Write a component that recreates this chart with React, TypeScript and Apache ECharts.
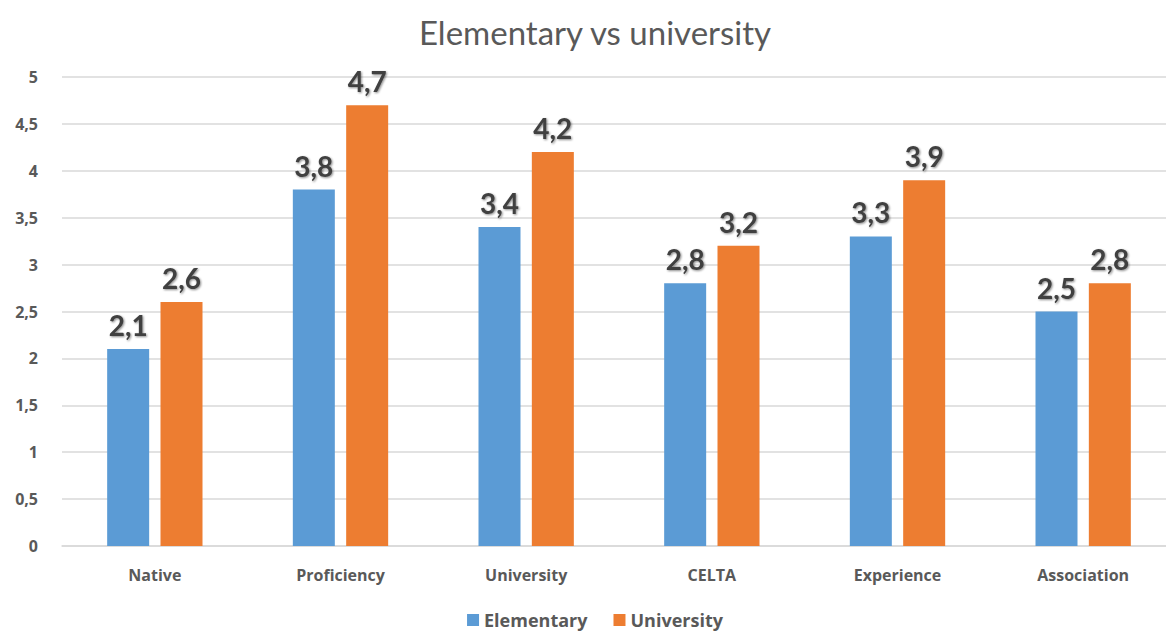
import React, { useEffect, useRef } from "react";
import * as echarts from "echarts";

const categories = ["Native", "Proficiency", "University", "CELTA", "Experience", "Association"];
const elementary = [2.1, 3.8, 3.4, 2.8, 3.3, 2.5];
const university = [2.6, 4.7, 4.2, 3.2, 3.9, 2.8];

const fmt = (v: number) => String(v).replace(".", ",");

export default function App() {
  const ref = useRef<HTMLDivElement>(null);
  useEffect(() => {
    if (!ref.current) return;
    const chart = echarts.init(ref.current, undefined, { renderer: "svg" });
    const labelStyle = {
      show: true,
      position: "top" as const,
      distance: 10,
      formatter: (p: any) => fmt(p.value),
      fontFamily: "Lato",
      fontWeight: "bold" as const,
      fontSize: 28,
      color: "#404040",
      textShadowColor: "rgba(0,0,0,0.45)",
      textShadowBlur: 2,
      textShadowOffsetX: 1,
      textShadowOffsetY: 1,
    };
    chart.setOption({
      animation: false,
      backgroundColor: "#ffffff",
      title: {
        text: "Elementary vs university",
        left: "center",
        top: 10,
        textStyle: { fontFamily: "Lato", fontSize: 33, fontWeight: "normal", color: "#595959" },
      },
      grid: { left: 62, width: 1114, top: 77, height: 469 },
      xAxis: {
        type: "category",
        data: categories,
        axisLine: { lineStyle: { color: "#d9d9d9", width: 1.5 } },
        axisTick: { show: false },
        axisLabel: {
          fontFamily: "Open Sans",
          fontWeight: "bold",
          fontSize: 16,
          color: "#595959",
          margin: 21,
        },
      },
      yAxis: {
        type: "value",
        min: 0,
        max: 5,
        interval: 0.5,
        axisLine: { show: false },
        axisTick: { show: false },
        splitLine: { lineStyle: { color: "#d9d9d9", width: 1.5 } },
        axisLabel: {
          formatter: (v: number) => fmt(v),
          fontFamily: "Open Sans",
          fontWeight: "bold",
          fontSize: 16,
          color: "#595959",
          margin: 24,
        },
      },
      legend: {
        data: ["Elementary", "University"],
        left: "center",
        top: 606,
        itemWidth: 12,
        itemHeight: 12,
        itemGap: 26,
        icon: "rect",
        textStyle: { fontFamily: "Open Sans", fontWeight: "bold", fontSize: 18, color: "#595959" },
      },
      series: [
        {
          name: "Elementary",
          type: "bar",
          data: elementary,
          barWidth: 42,
          barGap: "27%",
          itemStyle: { color: "#5B9BD5" },
          label: labelStyle,
        },
        {
          name: "University",
          type: "bar",
          data: university,
          barWidth: 42,
          barGap: "27%",
          itemStyle: { color: "#ED7D31" },
          label: labelStyle,
        },
      ],
    });
    return () => chart.dispose();
  }, []);
  return (
    <div
      style={{
        position: "fixed",
        left: 0,
        top: 0,
        width: 1166,
        height: 631,
        overflow: "hidden",
        background: "#ffffff",
      }}
    >
      <div ref={ref} style={{ width: 1190, height: 631 }} />
    </div>
  );
}
